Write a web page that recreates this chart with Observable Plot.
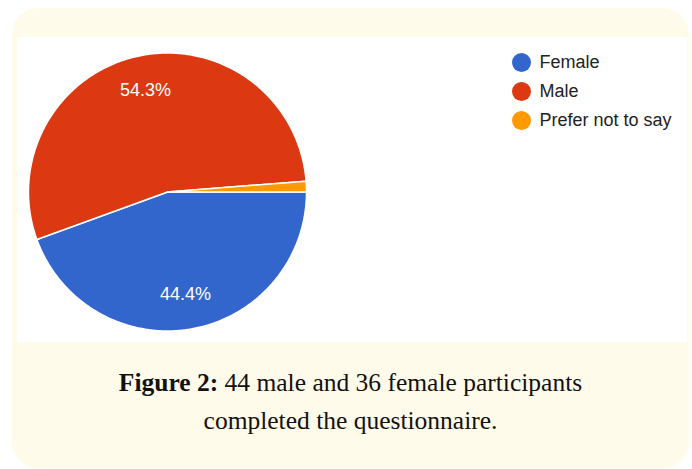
<!DOCTYPE html>
<html>
<head>
<meta charset="utf-8">
<script src="https://cdn.jsdelivr.net/npm/d3@7"></script>
<script src="https://cdn.jsdelivr.net/npm/@observablehq/plot@0.6"></script>
<style>
  html, body { margin: 0; padding: 0; background: #ffffff; }
  body { width: 692px; height: 469px; position: relative; overflow: hidden; }
  #box { position: absolute; left: 12px; top: 8px; width: 677px; height: 460px;
         background: #fffbea; border-radius: 26px; }
  #panel { position: absolute; left: 17px; top: 37px; width: 670px; height: 305px; background: #ffffff; }
  #legend { position: absolute; left: 483px; top: 3px; width: 200px; height: 100px; }
  #legend svg { max-width: none !important; }
  #caption { position: absolute; left: 12px; top: 364px; width: 677px; text-align: center;
             font-family: "Liberation Serif", "Times New Roman", serif; font-size: 25.5px;
             line-height: 38px; color: #111; }
  #caption b { font-weight: bold; }
</style>
</head>
<body>
<div id="box"></div>
<div id="panel"><div id="pie"></div><div id="legend"></div></div>
<div id="caption"></div>
<script>
const categories = ["Female", "Male", "Prefer not to say"];
const counts = [36, 44, 1];
const colors = ["#3366cc", "#dc3912", "#ff9900"];
const captionBold = "Figure 2:";
const captionLines = ["44 male and 36 female participants", "completed the questionnaire."];

const total = d3.sum(counts);
const arcs = d3.pie().sort(null).value(d => d)
  .startAngle(Math.PI / 2).endAngle(Math.PI / 2 + 2 * Math.PI)(counts);

const slicePoints = [];
arcs.forEach((a, i) => {
  const cat = categories[i];
  slicePoints.push({cat, x: 0, y: 0});
  const n = Math.max(2, Math.ceil((a.endAngle - a.startAngle) / (Math.PI / 360)));
  for (let k = 0; k <= n; k++) {
    const t = a.startAngle + (a.endAngle - a.startAngle) * k / n;
    slicePoints.push({cat, x: Math.sin(t), y: -Math.cos(t)});
  }
});

const labels = arcs.map((a, i) => {
  const mid = (a.startAngle + a.endAngle) / 2;
  return {cat: categories[i], share: counts[i] / total,
          x: 0.75 * Math.sin(mid), y: -0.75 * Math.cos(mid)};
}).filter(d => d.share > 0.05);

const colorScale = {domain: categories, range: colors};

const pie = Plot.plot({
  width: 670, height: 305, margin: 0,
  x: {domain: [-1, 1], range: [11, 289], axis: null},
  y: {domain: [-1, 1], range: [15.5, 293.5], axis: null},
  color: colorScale,
  style: {background: "white", overflow: "visible"},
  marks: [
    Plot.line(slicePoints, {x: "x", y: "y", z: "cat", fill: "cat", stroke: "white",
      strokeWidth: 1.5, curve: "linear-closed"}),
    Plot.text(labels, {x: "x", y: "y", text: d => d3.format(".1%")(d.share),
      fill: "white", fontSize: 18, fontFamily: "Liberation Sans, Arial, sans-serif"})
  ]
});
document.getElementById("pie").appendChild(pie);

const legend = Plot.plot({
  width: 200, height: 100, marginLeft: 21, marginTop: 0, marginRight: 0, marginBottom: 0,
  y: {type: "point", domain: categories, range: [21, 80.5], padding: 0, axis: null},
  color: colorScale,
  style: {background: "transparent", overflow: "visible"},
  marks: [
    Plot.dot(categories, {y: d => d, fill: d => d, r: 9.5, frameAnchor: "left"}),
    Plot.text(categories, {y: d => d, text: d => d, frameAnchor: "left", dx: 18,
      textAnchor: "start", fill: "#222", fontSize: 18,
      fontFamily: "Liberation Sans, Arial, sans-serif"})
  ]
});
document.getElementById("legend").appendChild(legend);

const cap = document.getElementById("caption");
const b = document.createElement("b");
b.textContent = captionBold;
cap.appendChild(b);
cap.appendChild(document.createTextNode(" " + captionLines[0]));
cap.appendChild(document.createElement("br"));
cap.appendChild(document.createTextNode(captionLines[1]));
</script>
</body>
</html>
